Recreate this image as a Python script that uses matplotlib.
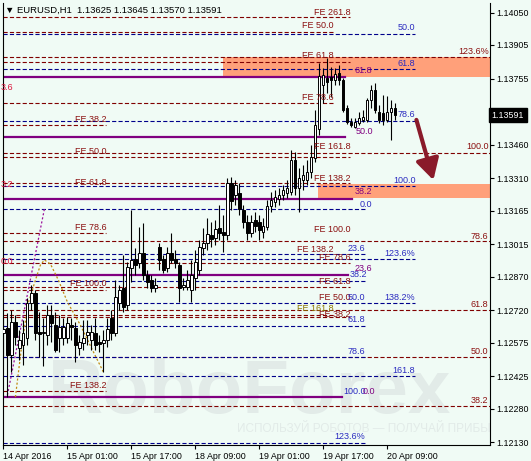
import matplotlib
matplotlib.use('Agg')
import matplotlib.pyplot as plt
import matplotlib.transforms as mtransforms

plt.rcParams['font.family'] = ['Liberation Sans', 'DejaVu Sans']
plt.rcParams['lines.scale_dashes'] = False

# EURUSD H1 candles, 14 Apr 2016 .. 20 Apr 2016
opens = [1.12618, 1.12640, 1.12519, 1.12667, 1.12550, 1.12564, 1.12595, 1.12752, 1.12796, 1.12622,
         1.12618, 1.12609, 1.12698, 1.12653, 1.12595, 1.12595, 1.12595, 1.12653, 1.12640, 1.12550,
         1.12573, 1.12609, 1.12586, 1.12618, 1.12577, 1.12573, 1.12586, 1.12685, 1.12618, 1.12752,
         1.12819, 1.12743, 1.12908, 1.12948, 1.12930, 1.12975, 1.12877, 1.12854, 1.12819, 1.13002,
         1.12948, 1.12908, 1.12975, 1.12948, 1.12921, 1.12823, 1.12823, 1.12810, 1.12863, 1.12899,
         1.12997, 1.13020, 1.13056, 1.13042, 1.13087, 1.13069, 1.13056, 1.13288, 1.13234, 1.13243,
         1.13167, 1.13114, 1.13065, 1.13123, 1.13114, 1.13069, 1.13091, 1.13185, 1.13203, 1.13217,
         1.13234, 1.13243, 1.13248, 1.13391, 1.13266, 1.13301, 1.13301, 1.13337, 1.13400, 1.13529,
         1.13726, 1.13757, 1.13762, 1.13748, 1.13780, 1.13748, 1.13623, 1.13561, 1.13538, 1.13556,
         1.13570, 1.13570, 1.13659, 1.13704, 1.13605, 1.13601, 1.13570, 1.13605, 1.13625]
highs = [1.12685, 1.12707, 1.12720, 1.12698, 1.12631, 1.12676, 1.12774, 1.12832, 1.12810, 1.12711,
         1.12685, 1.12743, 1.12743, 1.12711, 1.12698, 1.12685, 1.12689, 1.12685, 1.12667, 1.12609,
         1.12676, 1.12676, 1.12653, 1.12685, 1.12609, 1.12631, 1.12685, 1.12720, 1.12854, 1.12832,
         1.12966, 1.12935, 1.13167, 1.12997, 1.13091, 1.13109, 1.12899, 1.12877, 1.12863, 1.13020,
         1.12966, 1.13002, 1.13065, 1.12989, 1.12935, 1.12863, 1.12899, 1.12944, 1.12989, 1.13033,
         1.13087, 1.13132, 1.13114, 1.13123, 1.13190, 1.13145, 1.13310, 1.13315, 1.13301, 1.13288,
         1.13190, 1.13145, 1.13145, 1.13158, 1.13145, 1.13132, 1.13212, 1.13248, 1.13257, 1.13266,
         1.13279, 1.13301, 1.13436, 1.13427, 1.13355, 1.13368, 1.13391, 1.13458, 1.13614, 1.13824,
         1.13802, 1.13847, 1.13807, 1.13802, 1.13815, 1.13757, 1.13637, 1.13579, 1.13579, 1.13605,
         1.13614, 1.13668, 1.13726, 1.13735, 1.13637, 1.13681, 1.13677, 1.13659, 1.13645]
lows = [1.12510, 1.12331, 1.12443, 1.12564, 1.12497, 1.12474, 1.12564, 1.12720, 1.12586, 1.12510,
        1.12470, 1.12564, 1.12577, 1.12533, 1.12533, 1.12564, 1.12573, 1.12586, 1.12488, 1.12519,
        1.12542, 1.12564, 1.12542, 1.12542, 1.12533, 1.12443, 1.12555, 1.12586, 1.12604, 1.12720,
        1.12711, 1.12720, 1.12846, 1.12877, 1.12908, 1.12854, 1.12819, 1.12801, 1.12801, 1.12899,
        1.12886, 1.12890, 1.12930, 1.12908, 1.12756, 1.12810, 1.12810, 1.12756, 1.12810, 1.12877,
        1.12966, 1.12989, 1.13002, 1.13011, 1.13033, 1.12980, 1.13033, 1.13167, 1.13190, 1.13145,
        1.13087, 1.13033, 1.13047, 1.13069, 1.13033, 1.13042, 1.13078, 1.13158, 1.13181, 1.13190,
        1.13212, 1.13221, 1.13234, 1.13234, 1.13158, 1.13257, 1.13279, 1.13310, 1.13382, 1.13503,
        1.13646, 1.13690, 1.13672, 1.13726, 1.13726, 1.13605, 1.13552, 1.13538, 1.13534, 1.13547,
        1.13561, 1.13561, 1.13623, 1.13601, 1.13556, 1.13547, 1.13561, 1.13480, 1.13570]
closes = [1.12635, 1.12519, 1.12667, 1.12600, 1.12586, 1.12618, 1.12752, 1.12796, 1.12618, 1.12613,
          1.12622, 1.12698, 1.12662, 1.12542, 1.12644, 1.12644, 1.12662, 1.12644, 1.12564, 1.12577,
          1.12595, 1.12622, 1.12622, 1.12564, 1.12568, 1.12586, 1.12635, 1.12618, 1.12778, 1.12810,
          1.12734, 1.12913, 1.12944, 1.12921, 1.12975, 1.12877, 1.12846, 1.12819, 1.12832, 1.12944,
          1.12899, 1.12975, 1.12944, 1.12930, 1.12819, 1.12832, 1.12854, 1.12877, 1.12935, 1.13002,
          1.13020, 1.13060, 1.13038, 1.13082, 1.13065, 1.13056, 1.13288, 1.13208, 1.13279, 1.13172,
          1.13114, 1.13065, 1.13114, 1.13096, 1.13078, 1.13096, 1.13185, 1.13212, 1.13225, 1.13234,
          1.13257, 1.13266, 1.13391, 1.13266, 1.13310, 1.13324, 1.13337, 1.13404, 1.13547, 1.13766,
          1.13771, 1.13740, 1.13748, 1.13775, 1.13748, 1.13614, 1.13561, 1.13547, 1.13561, 1.13579,
          1.13583, 1.13659, 1.13704, 1.13614, 1.13570, 1.13570, 1.13605, 1.13623, 1.13591]

time_ticks = [0, 16, 32, 48, 64, 80, 96]
time_labels = ['14 Apr 2016', '15 Apr 01:00', '15 Apr 17:00', '18 Apr 09:00',
               '19 Apr 01:00', '19 Apr 17:00', '20 Apr 09:00']
price_ticks = [1.14050, 1.13905, 1.13755, 1.13460, 1.13310, 1.13165, 1.13015,
               1.12870, 1.12720, 1.12575, 1.12425, 1.12280, 1.12130]
last_price = 1.13591

# Fibo expansion / retracement levels (dark red), projection levels (navy), correction levels (purple)
red_levels = [1.14030, 1.13965, 1.13850, 1.13830, 1.13646, 1.13547, 1.13423, 1.13406, 1.13288,
              1.13064, 1.13030, 1.12930, 1.12823, 1.12810, 1.12720, 1.12698, 1.12689, 1.12510,
              1.12358, 1.12291]
red_ends = [86.75, 82.5, 121.75, 86.75, 82.5, 25.75, 121.75, 86.75, 86.75,
            25.75, 121.75, 86.75, 86.75, 25.75, 121.75, 82.5, 86.75, 121.75,
            25.75, 121.75]
blue_levels = [1.13956, 1.13796, 1.13565, 1.13275, 1.13172, 1.12971, 1.12948, 1.12850,
               1.12752, 1.12649, 1.12510, 1.12425, 1.12126]
blue_ends = [103, 103, 103, 103, 90.5, 90.5, 103, 91, 103, 90.5, 90.5, 103, 90.5]
purple_levels = [1.13763, 1.13494, 1.13218, 1.12877, 1.12331]
purple_ends = [85.5, 85.5, 87.25, 86.25, 84.75]

# target zones
zones = [(55.0, 1.13763, 1.13850), (78.75, 1.13221, 1.13284)]

# labels: text, right edge (bar), price, colour key
labels = [
    ('FE 261.8', 86.75, 1.14052, 'r'), ('FE 50.0', 82.5, 1.13994, 'r'),
    ('FE 61.8', 82.5, 1.13860, 'r'), ('FE 78.6', 82.5, 1.13672, 'r'),
    ('FE 161.8', 86.75, 1.13449, 'r'), ('FE 138.2', 86.75, 1.13310, 'r'),
    ('FE 100.0', 86.75, 1.13078, 'r'), ('FE 138.2', 82.5, 1.12993, 'r'),
    ('FE 78.6', 86.75, 1.12953, 'r'), ('FE 61.8', 86.75, 1.12846, 'r'),
    ('FE 50.0', 86.75, 1.12778, 'r'), ('FE 161.8', 82.5, 1.12725, 'o'),
    ('FE 38.2', 86.75, 1.12702, 'r'),
    ('FE 38.2', 25.75, 1.13570, 'r'), ('FE 50.0', 25.75, 1.13427, 'r'),
    ('FE 61.8', 25.75, 1.13292, 'r'), ('FE 78.6', 25.75, 1.13087, 'r'),
    ('FE 100.0', 25.75, 1.12837, 'r'), ('FE 138.2', 25.75, 1.12385, 'r'),
    ('123.6%', 121.3, 1.13874, 'r'), ('100.0', 121.3, 1.13449, 'r'),
    ('78.6', 121.3, 1.13051, 'r'), ('61.8', 121.3, 1.12747, 'r'),
    ('50.0', 121.3, 1.12533, 'r'), ('38.2', 121.3, 1.12314, 'r'),
    ('50.0', 103, 1.13981, 'b'), ('61.8', 103, 1.13824, 'b'),
    ('78.6', 103, 1.13592, 'b'), ('100.0', 103, 1.13297, 'b'),
    ('0.0', 92.25, 1.13194, 'b'), ('23.6', 90.5, 1.12997, 'b'),
    ('123.6%', 103, 1.12975, 'b'), ('38.2', 91, 1.12877, 'b'),
    ('50.0', 90.5, 1.12778, 'b'), ('138.2%', 103, 1.12778, 'b'),
    ('61.8', 90.5, 1.12676, 'b'), ('78.6', 90.5, 1.12533, 'b'),
    ('161.8', 103, 1.12452, 'b'), ('100.0', 90.5, 1.12358, 'b'),
    ('123.6%', 90.5, 1.12153, 'b'),
    ('61.8', 92.25, 1.13789, 'p'), ('50.0', 92.5, 1.13516, 'p'),
    ('38.2', 92.25, 1.13248, 'p'), ('23.6', 92.25, 1.12908, 'p'),
    ('0.0', 93, 1.12358, 'p'),
]
edge_labels = [('3.6', 1.13713), ('3.2', 1.13283), ('0.0', 1.12935)]

# fan / arc drawings on the left
fan_x = [1.0, 10.25]
fan_y = [1.12340, 1.13172]
arc_x = [3, 4.75, 6.25, 8, 9.25, 10.25, 11.75, 13.75, 16, 19.25, 22.25, 25]
arc_y = [1.12331, 1.12586, 1.12752, 1.12854, 1.12921, 1.12944, 1.12926, 1.12854,
         1.12756, 1.12653, 1.12542, 1.12443]

# forecast arrow
arrow_from = (103.25, 1.13570)
arrow_to = (107.5, 1.13301)

BG = '#f0fbf5'
RED = '#800000'
RED_T = '#8b1010'
NAVY = '#00008b'
BLUE_T = '#2b2bc0'
PURPLE = '#800080'
SALMON = '#ffa07a'
label_colors = {'r': RED_T, 'b': BLUE_T, 'p': PURPLE, 'o': '#8b7500'}

fig = plt.figure(figsize=(5.31, 4.61), dpi=100, facecolor=BG)
ax = fig.add_axes([3 / 531, 16 / 461, 487 / 531, 442 / 461])
ax.set_facecolor(BG)
ax.set_xlim(-0.1, 121.65)
ax.set_ylim(1.121169, 1.140926)

# watermark
ax.text(11, 1.12262, 'RoboForex', fontsize=55, fontweight='bold', color='#e2ebe8',
        va='baseline', ha='left', zorder=0.5, clip_on=True)
ax.text(58.5, 1.12189, 'ИСПОЛЬЗУЙ РОБОТОВ — ПОЛУЧАЙ ПРИБЫЛЬ!', fontsize=8.5,
        color='#e2ebe8', va='center', ha='left', zorder=0.5, clip_on=True)

for x0, lo, hi in zones:
    ax.fill_between([x0, 121.65], lo, hi, color=SALMON, lw=0, zorder=1)

dash = (0, (3, 1.6))
for lvl, end in zip(red_levels, red_ends):
    ax.plot([-0.1, end], [lvl, lvl], color=RED, lw=0.8, linestyle=dash, zorder=2)
for lvl, end in zip(blue_levels, blue_ends):
    ax.plot([-0.1, end], [lvl, lvl], color=NAVY, lw=0.8, linestyle=dash, zorder=2)
for lvl, end in zip(purple_levels, purple_ends):
    ax.plot([-0.1, end], [lvl, lvl], color=PURPLE, lw=1.6, zorder=2)

ax.plot(fan_x, fan_y, color='#9b109b', lw=0.9, linestyle=(0, (1.5, 1.5)), zorder=2)
ax.plot(arc_x, arc_y, color='#c08a10', lw=0.9, linestyle=(0, (1.5, 1.5)), zorder=2)

# candles
xs = list(range(len(opens)))
ax.vlines(xs, lows, highs, color='black', lw=0.8, zorder=3)
for i, (o, c) in enumerate(zip(opens, closes)):
    up = c >= o
    h = max(abs(c - o), 0.000015)
    ax.bar(i, h, bottom=min(o, c), width=0.55, color='white' if up else 'black',
           edgecolor='black', lw=0.7, zorder=4)

for txt, x, y, key in labels:
    ax.text(x, y, txt, color=label_colors[key], fontsize=6.5, ha='right', va='center', zorder=5)
for txt, y in edge_labels:
    ax.text(-0.8, y, txt, color='#dc143c', fontsize=6.5, ha='left', va='center', zorder=5)

ax.annotate('', xy=arrow_to, xytext=arrow_from, zorder=6,
            arrowprops=dict(arrowstyle='-|>,head_length=0.9,head_width=0.5', lw=3.0,
                            color='#8a1a2a', mutation_scale=14, shrinkA=0, shrinkB=0))

# axes look
for side in ['left', 'right', 'bottom']:
    ax.spines[side].set_color('black')
    ax.spines[side].set_linewidth(0.8)
ax.spines['top'].set_visible(False)
ax.yaxis.tick_right()
ax.set_yticks(price_ticks)
ax.set_yticklabels(['%.5f' % p for p in price_ticks])
ax.set_xticks(time_ticks)
ax.set_xticklabels(time_labels, ha='left')
ax.tick_params(axis='both', length=3, width=0.8, labelsize=6.4, pad=2, colors='black')
ax.tick_params(axis='y', pad=1.5)

blend = mtransforms.blended_transform_factory(ax.transAxes, ax.transData)
ax.text(1.003, last_price, '1.13591', transform=blend, ha='left', va='center', color='white',
        fontsize=6.4, zorder=7, clip_on=False,
        bbox=dict(boxstyle='square,pad=0.3', fc='black', ec='black'))

fig.text(5 / 531, 1 - 10 / 461, '▼ EURUSD,H1  1.13625 1.13645 1.13570 1.13591',
         fontsize=6.8, color='black', ha='left', va='center')

fig.savefig('out.png', dpi=100, facecolor=BG)
